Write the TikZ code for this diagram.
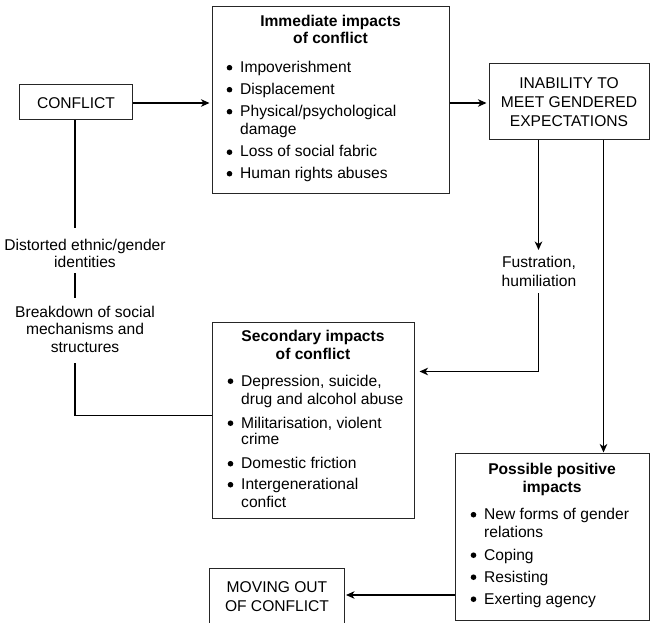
\documentclass[tikz,border=0pt]{standalone}
\usepackage{fontspec}
\setmainfont{Liberation Sans}
\usetikzlibrary{arrows.meta}
\tikzset{
  box/.style={draw=black!85, line width=1pt, fill=none, inner sep=0pt},
  txt/.style={inner sep=0pt, font=\fontsize{15.6}{18}\selectfont},
  ttl/.style={txt, font=\fontsize{15.6}{18}\selectfont\bfseries},
  conn/.style={line width=1.5pt, black},
  arr/.style={conn, -{Stealth[length=8.5pt,width=7.5pt,inset=2.5pt]}},
}
\newcommand\myitm[4]{%
  \fill (#1-10.5,#2-4.8) circle (2.8);
  \node[txt,anchor=base west] (#4) at (#1,#2) {#3};}
\newcommand\myln[4]{\node[txt,anchor=base west] (#4) at (#1,#2) {#3};}
\newcommand\myctr[4]{\node[#1,anchor=base] (#4) at #2 {#3};}
\begin{document}
\begin{tikzpicture}[x=1pt,y=-1pt]
\clip (0,0) rectangle (650,623);
\fill[white] (0,0) rectangle (650,623);

% boxes
\node[box, minimum width=113pt, minimum height=35pt] (conf) at (75.5,102.5) {};
\node[box, minimum width=237pt, minimum height=186pt] (imm) at (330.5,100) {};
\node[box, minimum width=160pt, minimum height=75pt] (inab) at (569,101.5) {};
\node[box, minimum width=202pt, minimum height=196pt] (sec) at (313,420.5) {};
\node[box, minimum width=194pt, minimum height=167pt] (pos) at (552,536.5) {};
\node[box, minimum width=135pt, minimum height=62pt] (mov) at (276.5,599) {};

% CONFLICT
\myctr{txt}{(76,108.5)}{CONFLICT}{tconf}

% Immediate impacts
\myctr{ttl}{(330.5,26.5)}{Immediate impacts}{timm1}
\myctr{ttl}{(330.5,44)}{of conflict}{timm2}
\myitm{240}{72.5}{Impoverishment}{i1}
\myitm{240}{94.5}{Displacement}{i2}
\myitm{240}{116.5}{Physical/psychological}{i3}
\myln{240}{134.5}{damage}{i3b}
\myitm{240}{157}{Loss of social fabric}{i4}
\myitm{240}{178.5}{Human rights abuses}{i5}

% Inability
\myctr{txt}{(569,88.5)}{INABILITY TO}{tin1}
\myctr{txt}{(569,107.5)}{MEET GENDERED}{tin2}
\myctr{txt}{(569,126.5)}{EXPECTATIONS}{tin3}

% Left labels
\myctr{txt}{(85,250.5)}{Distorted ethnic/gender}{l1}
\myctr{txt}{(85,267.5)}{identities}{l2}
\myctr{txt}{(85,317.5)}{Breakdown of social}{l3}
\myctr{txt}{(85,334.5)}{mechanisms and}{l4}
\myctr{txt}{(85,352)}{structures}{l5}

% Fustration
\myctr{txt}{(539,267.5)}{Fustration,}{f1t}
\myctr{txt}{(539,286)}{humiliation}{f2t}

% Secondary impacts
\myctr{ttl}{(313,341.5)}{Secondary impacts}{tsec1}
\myctr{ttl}{(313,359.5)}{of conflict}{tsec2}
\myitm{241}{386}{Depression, suicide,}{s1}
\myln{241}{404}{drug and alcohol abuse}{s1b}
\myitm{241}{428}{Militarisation, violent}{s2}
\myln{241}{444.5}{crime}{s2b}
\myitm{241}{468.5}{Domestic friction}{s3}
\myitm{241}{489.5}{Intergenerational}{s4}
\myln{241}{507}{confict}{s4b}

% Possible positive impacts
\myctr{ttl}{(552,474.5)}{Possible positive}{tpos1}
\myctr{ttl}{(552,492.5)}{impacts}{tpos2}
\myitm{484}{519.5}{New forms of gender}{p1}
\myln{484}{537}{relations}{p1b}
\myitm{484}{560}{Coping}{p2}
\myitm{484}{582}{Resisting}{p3}
\myitm{484}{604}{Exerting agency}{p4}

% Moving out
\myctr{txt}{(277,592.5)}{MOVING OUT}{tm1}
\myctr{txt}{(277,611.5)}{OF CONFLICT}{tm2}

% coordinates
\coordinate (ya) at (0,103);
\coordinate (c1) at (75,228);
\coordinate (c2) at (75,273);
\coordinate (c3) at (75,298);
\coordinate (c4) at (75,363);
\coordinate (ysec) at (0,415.5);
\coordinate (fa) at (538.5,250);
\coordinate (fb) at (538.5,293);
\coordinate (fc) at (538.5,371.5);
\coordinate (rx) at (603.5,0);
\coordinate (ym) at (0,595);

% connectors
\draw[arr, shorten >=2pt] (conf.east |- ya) -- (imm.west |- ya);
\draw[arr, shorten >=2pt] (imm.east |- ya) -- (inab.west |- ya);
\draw[conn] (conf.south -| c1) -- (c1);
\draw[conn] (c2) -- (c3);
\draw[conn] (c4) |- (sec.west |- ysec);
\draw[arr] (inab.south -| fa) -- (fa);
\draw[arr, shorten >=5pt] (fb) -- (fc) -- (sec.east |- fc);
\draw[arr] (inab.south -| rx) -- (pos.north -| rx);
\draw[arr, shorten >=1.5pt] (pos.west |- ym) -- (mov.east |- ym);
\end{tikzpicture}
\end{document}
